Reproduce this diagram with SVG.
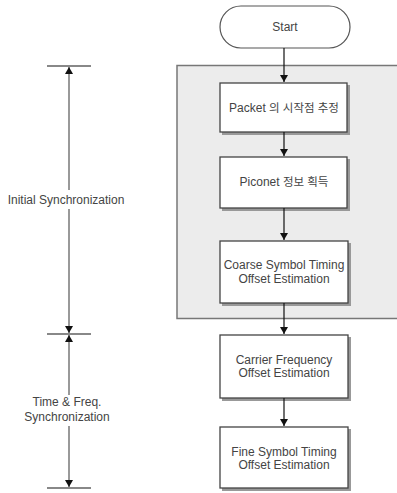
<svg xmlns="http://www.w3.org/2000/svg" width="397" height="493" viewBox="0 0 397 493">
<defs>
<marker id="ah" markerWidth="8" markerHeight="11" refX="7" refY="5.5" orient="auto" markerUnits="userSpaceOnUse">
<path d="M0,1.5 L7,5.5 L0,9.5 Z" fill="#111"/>
</marker>
</defs>
<style>
.box{fill:#fff;stroke:#444;stroke-width:1.3}
.sh{fill:#999}
.t{font-family:"Liberation Sans","Noto Sans CJK KR",Arial,sans-serif;font-size:12px;fill:#444;text-anchor:middle}
.k{font-size:11.5px}
.edge{stroke:#111;stroke-width:1.2;fill:none}
.dim{stroke:#555;stroke-width:1.2;fill:none}
.bar{stroke:#888;stroke-width:2;fill:none}
</style>
<rect id="group" x="177" y="65.5" width="224" height="253" fill="#ececec" stroke="#777" stroke-width="1.5"/>
<g id="start">
<rect x="220" y="6" width="130" height="42" rx="21" fill="#fff" stroke="#555" stroke-width="1.2"/>
<text class="t" x="285" y="31">Start</text>
</g>
<g id="packet">
<rect class="sh" x="222" y="85" width="128" height="50"/>
<rect class="box" x="220" y="83" width="127" height="49"/>
<text class="t" x="284" y="112">Packet <tspan class="k">의 시작점 추정</tspan></text>
</g>
<g id="piconet">
<rect class="sh" x="222" y="159" width="128" height="52"/>
<rect class="box" x="220" y="157" width="127" height="51"/>
<text class="t" x="284" y="186">Piconet <tspan class="k">정보 획득</tspan></text>
</g>
<g id="coarse">
<rect class="sh" x="222" y="243" width="129" height="63"/>
<rect class="box" x="220" y="241" width="128" height="62"/>
<text class="t" x="284" y="269">Coarse Symbol Timing</text>
<text class="t" x="284" y="283">Offset Estimation</text>
</g>
<g id="carrier">
<rect class="sh" x="222" y="337" width="129" height="64"/>
<rect class="box" x="220" y="335" width="128" height="63"/>
<text class="t" x="284" y="364">Carrier Frequency</text>
<text class="t" x="284" y="377">Offset Estimation</text>
</g>
<g id="fine">
<rect class="sh" x="222" y="429" width="129" height="62"/>
<rect class="box" x="220" y="427" width="128" height="61"/>
<text class="t" x="284" y="456">Fine Symbol Timing</text>
<text class="t" x="284" y="469">Offset Estimation</text>
</g>
<g id="connectors">
<line class="edge" x1="284" y1="48" x2="284" y2="82" marker-end="url(#ah)"/>
<line class="edge" x1="284" y1="132" x2="284" y2="156" marker-end="url(#ah)"/>
<line class="edge" x1="284" y1="208" x2="284" y2="240" marker-end="url(#ah)"/>
<line class="edge" x1="284" y1="303" x2="284" y2="334" marker-end="url(#ah)"/>
<line class="edge" x1="284" y1="398" x2="284" y2="426" marker-end="url(#ah)"/>
</g>
<g id="dimensions">
<line class="bar" x1="47" y1="66" x2="91" y2="66"/>
<line class="bar" x1="47" y1="334" x2="91" y2="334"/>
<line class="bar" x1="47" y1="488" x2="91" y2="488"/>
<line class="dim" x1="69" y1="190" x2="69" y2="67" marker-end="url(#ah)"/>
<line class="dim" x1="69" y1="209" x2="69" y2="333" marker-end="url(#ah)"/>
<line class="dim" x1="69" y1="395" x2="69" y2="335" marker-end="url(#ah)"/>
<line class="dim" x1="69" y1="426" x2="69" y2="487" marker-end="url(#ah)"/>
<text class="t" x="66" y="204">Initial Synchronization</text>
<text class="t" x="67" y="406">Time &amp; Freq.</text>
<text class="t" x="67" y="421">Synchronization</text>
</g>
</svg>
